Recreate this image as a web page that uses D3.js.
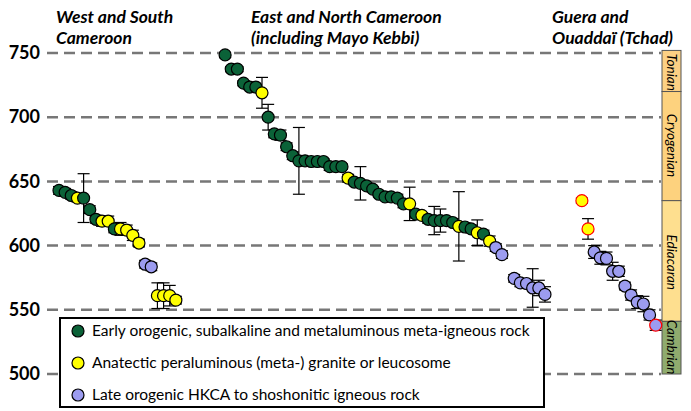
<!DOCTYPE html>
<html><head><meta charset="utf-8">
<script src="https://cdn.jsdelivr.net/npm/d3@7"></script>
<style>body{margin:0;background:#fff}svg{display:block}</style>
</head><body><svg id="c" width="691" height="411"></svg>
<script>
// ---------- DATA ----------
const yTicks = [500, 550, 600, 650, 700, 750];
const groupTitles = [["West and South", "Cameroon"], ["East and North Cameroon", "(including Mayo Kebbi)"], ["Guera and", "Ouaddaï (Tchad)"]];

const westAges = [643, 641.5, 639, 637, 637, 628, 620.5, 619, 619, 613, 613, 612, 608, 602, 585.5, 583.5, 561, 561, 561, 557.5];
const westErr  = [3, 3, 3, 3, 19, 3, 3, 4, 4, 3, 5, 4, 4, 3, 3, 3, 10, 10, 8, 3];
const westType = ["G","G","G","Y","G","G","G","Y","Y","G","Y","Y","Y","Y","B","B","Y","Y","Y","Y"];

const eastAges = [748.5, 737.5, 737.5, 726.5, 723.5, 723.5, 719, 700, 687, 686, 677, 670, 666, 666, 665.5, 665.5, 665.5, 661.5, 661.5, 661.5,
  652.5, 649.5, 648.5, 646.5, 644, 640, 638, 638, 637, 632.5, 632.5, 624.5, 623.5, 620.5, 619.5, 619.5, 619.5, 618, 615, 614.5,
  613, 610, 609, 603.5, 598.5, 593, 574.5, 571, 570.5, 567, 567, 562];
const eastErr  = [2, 2, 2, 2, 2, 2, 12, 10, 3, 4, 3, 3, 26, 2, 2, 2, 2, 3, 2, 2,
  3, 2, 13, 2, 2, 2, 2, 2, 3, 3, 13, 3, 2, 3, 11, 9, 3, 3, 27, 3,
  3, 10, 3, 4, 3, 3, 3, 3, 3, 15, 6, 6];
const eastType = ["G","G","G","G","G","G","Y","G","G","G","G","G","G","G","G","G","G","G","G","G",
  "Y","G","G","G","G","G","G","G","G","G","Y","G","Y","G","G","G","G","G","Y","G",
  "G","Y","G","Y","B","B","B","B","B","B","B","B"];

const gueraAges = [635, 613, 595, 590.5, 590, 580, 580, 568.5, 561.5, 556, 554.5, 546, 538];
const gueraErr  = [2, 8, 5, 5, 5, 7, 4, 3, 4, 5, 6, 4, 4];
const gueraType = ["YR","YR","B","B","B","B","B","B","B","B","B","B","BR"];

const periods = ["Tonian", "Cryogenian", "Ediacaran", "Cambrian"];
const periodTop = [752, 720, 635, 541];
const periodBase = [720, 635, 541, 500];
const periodColor = ["#fcd084", "#fdd27e", "#fedf8f", "#8fab6e"];

const legendLabels = ["Early orogenic, subalkaline and metaluminous meta-igneous rock",
  "Anatectic peraluminous (meta-) granite or leucosome",
  "Late orogenic HKCA to shoshonitic igneous rock"];
const legendTypes = ["G", "Y", "B"];

// ---------- BUILD ----------
const fill = {G: "#0b6238", Y: "#ffff00", B: "#9c9cf0", YR: "#ffff00", BR: "#9c9cf0"};
const stroke = {G: "#000", Y: "#000", B: "#000", YR: "#ff0000", BR: "#ff0000"};

const pts = [];
westAges.forEach((a, i) => pts.push({n: i, age: a, err: westErr[i], t: westType[i]}));
eastAges.forEach((a, i) => pts.push({n: 27 + i + (i >= 46 ? 1 : 0), age: a, err: eastErr[i], t: eastType[i]}));
gueraAges.forEach((a, i) => pts.push({n: 85 + i, age: a, err: gueraErr[i], t: gueraType[i]}));

const svg = d3.select("#c");
const y = d3.scaleLinear().domain([500, 750]).range([374, 53]);
const x = d3.scaleLinear().domain([0, 97]).range([59, 655.7]);

// gridlines
svg.append("g").selectAll("line").data(yTicks).join("line")
  .attr("x1", 47).attr("x2", 661)
  .attr("y1", d => y(d)).attr("y2", d => y(d))
  .attr("stroke", "#777").attr("stroke-width", 2.5).attr("stroke-dasharray", "11,6");

// y axis labels
const yAxis = d3.axisLeft(y).tickValues(yTicks).tickSize(0).tickPadding(0);
const ga = svg.append("g").attr("transform", "translate(40,0)").call(yAxis);
ga.select(".domain").remove();
ga.selectAll("text").attr("font-family", "Lato, 'Open Sans', sans-serif").attr("font-weight", "bold")
  .attr("font-size", 18).attr("fill", "#000");

// time scale column
const tg = svg.append("g");
periods.forEach((p, i) => {
  const y0 = y(periodTop[i]), y1 = y(periodBase[i]);
  tg.append("rect").attr("x", 662).attr("y", y0).attr("width", 19).attr("height", y1 - y0)
    .attr("fill", periodColor[i]).attr("stroke", "#555").attr("stroke-width", 1);
});
const labelAt = [735, 678, 587, 521];
periods.forEach((p, i) => {
  tg.append("text").attr("transform", `translate(667,${y(labelAt[i])}) rotate(90)`)
    .attr("text-anchor", "middle").attr("font-family", "Lato, sans-serif").attr("font-style", "italic")
    .attr("font-size", 13.5).attr("fill", "#000").text(p);
});

// titles
const titleX = [56, 251, 552];
groupTitles.forEach((lines, i) => {
  lines.forEach((l, j) => {
    svg.append("text").attr("x", titleX[i]).attr("y", 23 + j * 20.5)
      .attr("font-family", "Lato, sans-serif").attr("font-weight", "bold").attr("font-style", "italic")
      .attr("font-size", 17.5).attr("fill", "#000").text(l);
  });
});

// error bars
const eb = svg.append("g").attr("stroke", "#000").attr("stroke-width", 1.2);
pts.forEach(d => {
  const cx = x(d.n), top = y(d.age + d.err), bot = y(d.age - d.err);
  eb.append("line").attr("x1", cx).attr("x2", cx).attr("y1", top).attr("y2", bot);
  eb.append("line").attr("x1", cx - 6).attr("x2", cx + 6).attr("y1", top).attr("y2", top);
  eb.append("line").attr("x1", cx - 6).attr("x2", cx + 6).attr("y1", bot).attr("y2", bot);
});

// points
svg.append("g").selectAll("circle").data(pts).join("circle")
  .attr("cx", d => x(d.n)).attr("cy", d => y(d.age)).attr("r", 6)
  .attr("fill", d => fill[d.t]).attr("stroke", d => stroke[d.t]).attr("stroke-width", 1.2);

// legend
const lg = svg.append("g");
lg.append("rect").attr("x", 60).attr("y", 318).attr("width", 484).attr("height", 89)
  .attr("fill", "#fff").attr("stroke", "#000").attr("stroke-width", 2);
legendLabels.forEach((l, i) => {
  const cy = 331 + i * 32;
  lg.append("circle").attr("cx", 78).attr("cy", cy).attr("r", 6).attr("fill", fill[legendTypes[i]])
    .attr("stroke", "#000").attr("stroke-width", 1.2);
  lg.append("text").attr("x", 92).attr("y", cy + 5).attr("font-family", "Lato, sans-serif")
    .attr("font-size", 15.5).attr("fill", "#000").text(l);
});
</script></body></html>
